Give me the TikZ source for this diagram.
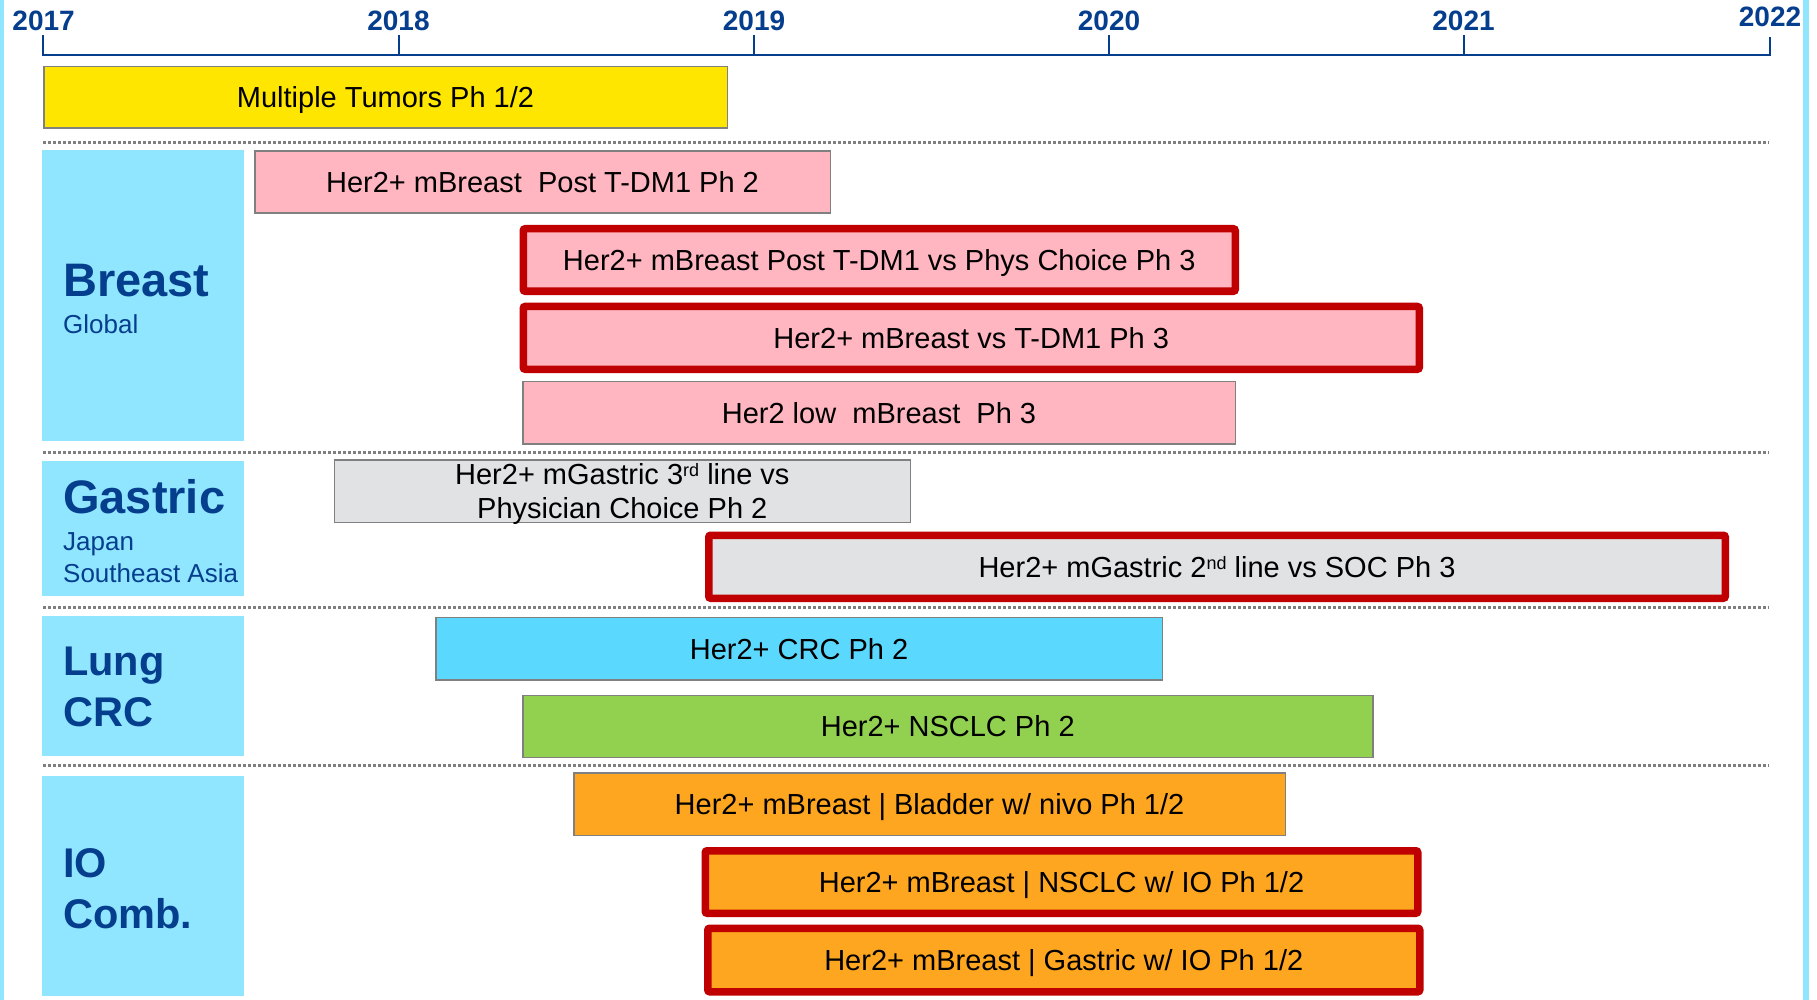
\documentclass[tikz,border=0pt]{standalone}
\usepackage{fontspec}
\setmainfont{Liberation Sans}

\definecolor{navy}{HTML}{063E8E}
\definecolor{labcyan}{HTML}{91E6FF}
\definecolor{barline}{HTML}{808080}
\definecolor{keyred}{HTML}{C00000}
\definecolor{sepgrey}{HTML}{7F7F7F}
\definecolor{cyellow}{HTML}{FFE600}
\definecolor{cpink}{HTML}{FFB6C1}
\definecolor{cgrey}{HTML}{E1E2E4}
\definecolor{cblue}{HTML}{5BD8FE}
\definecolor{cgreen}{HTML}{92D050}
\definecolor{corange}{HTML}{FEA61F}

% superscript ordinal
\newcommand\upsc[1]{\raisebox{8pt}{\fontsize{18}{18}\selectfont #1}}

% a timeline bar given by its outer corners:
% #1 name, #2 style, #3 border width, #4 x1, #5 y1, #6 x2, #7 y2, #8 text
\newcommand\task[8]{%
  \node[#2, minimum width={#6-#4-#3}, minimum height={#7-#5-#3}]
    (#1) at ({(#4+#6)/2},{(#5+#7)/2}) {#8};}

\begin{document}
\begin{tikzpicture}[x=1pt,y=-1pt,
  yearlab/.style={font=\fontsize{28}{28}\selectfont\bfseries, text=navy, inner sep=0, anchor=base},
  axisline/.style={draw=navy, line width=2.7pt},
  tickline/.style={draw=navy, line width=2pt},
  sepline/.style={draw=sepgrey, line width=3pt, dash pattern=on 3.2pt off 1.8pt},
  bar/.style={draw=barline, line width=1.5pt, inner sep=0, text height=21pt, text depth=0pt,
    font=\fontsize{29}{34}\selectfont, text=black},
  keybar/.style={bar, draw=keyred, line width=7.5pt, rounded corners=2pt},
  catbox/.style={fill=labcyan, inner sep=0},
  cathead/.style={font=\fontsize{47}{47}\selectfont\bfseries, text=navy, inner sep=0, anchor=base west},
  cathead2/.style={font=\fontsize{41.5}{41.5}\selectfont\bfseries, text=navy, inner sep=0, anchor=base west},
  catsub/.style={font=\fontsize{26}{26}\selectfont, text=navy, inner sep=0, anchor=base west}
]
\useasboundingbox (0,0) rectangle (1817,1000);
\fill[white] (0,0) rectangle (1817,1000);

% side bands
\fill[labcyan] (0,0) rectangle (4,1000);
\fill[labcyan] (1803,0) rectangle (1809,1000);

% time axis
\draw[axisline] (43,35) -- (43,55) -- (1770,55) -- (1770,37);
\foreach \tx in {398.5,754,1109,1463.5} \draw[tickline] (\tx,35) -- (\tx,55);

\node[yearlab] (y2017) at (43.6,30.7) {2017};
\node[yearlab] (y2018) at (398.5,30.7) {2018};
\node[yearlab] (y2019) at (754,30.7) {2019};
\node[yearlab] (y2020) at (1109,30.7) {2020};
\node[yearlab] (y2021) at (1463.5,30.7) {2021};
\node[yearlab] (y2022) at (1770,26.7) {2022};

% section separators
\foreach \sy in {143,452,607.5,765} \draw[sepline] (43,\sy) -- (1769,\sy);

% category panels
\node[catbox, minimum width=202pt, minimum height=291pt] (breastbox) at (143,295.5) {};
\node[catbox, minimum width=202pt, minimum height=135pt] (gastricbox) at (143,528.5) {};
\node[catbox, minimum width=202pt, minimum height=140pt] (lungbox) at (143,686) {};
\node[catbox, minimum width=202pt, minimum height=220pt] (iobox) at (143,886) {};

\node[cathead] (breast) at (63,297) {Breast};
\node[catsub] (global) at (63,333) {Global};
\node[cathead] (gastric) at (63,513) {Gastric};
\node[catsub] (japan) at (63,550.5) {Japan};
\node[catsub] (sea) at (63,582.7) {Southeast Asia};
\node[cathead2] (lung) at (63,675) {Lung};
\node[cathead2] (crc) at (63,726) {CRC};
\node[cathead2] (io) at (63,877) {IO};
\node[cathead2] (comb) at (63,928) {Comb.};

% study bars
\task{multi}{bar, fill=cyellow}{1.5}{43}{66}{728}{129}{Multiple Tumors Ph 1/2}
\task{bpost2}{bar, fill=cpink}{1.5}{254}{150.5}{831}{214}{Her2+ mBreast\ \ Post T-DM1 Ph 2}
\task{bpost3}{keybar, fill=cpink}{7.5}{519.5}{225}{1239}{295}{Her2+ mBreast Post T-DM1 vs Phys Choice Ph 3}
\task{btdm1}{keybar, fill=cpink}{7.5}{519.5}{302.7}{1423}{373}{Her2+ mBreast vs T-DM1 Ph 3}
\task{blow}{bar, fill=cpink}{1.5}{522}{380.7}{1236}{444.5}{Her2 low\ \ mBreast\ \ Ph 3}
\task{gthird}{bar, fill=cgrey, align=center, text height=55pt, text depth=0pt}{1.5}{333.6}{459.3}{911}{523}{Her2+ mGastric 3\upsc{rd} line vs\\Physician Choice Ph 2}
\task{gsecond}{keybar, fill=cgrey}{7.5}{705}{531.5}{1729}{602}{Her2+ mGastric 2\upsc{nd} line vs SOC Ph 3}
\task{crcph2}{bar, fill=cblue}{1.5}{435}{616.7}{1163}{680.7}{Her2+ CRC Ph 2}
\task{nsclc}{bar, fill=cgreen}{1.5}{522}{694.5}{1373.5}{758}{Her2+ NSCLC Ph 2}
\task{bladder}{bar, fill=corange}{1.5}{573}{772}{1286}{836}{Her2+ mBreast | Bladder w/ nivo Ph 1/2}
\task{ionsclc}{keybar, fill=corange}{7.5}{701.5}{847}{1421.5}{917}{Her2+ mBreast | NSCLC w/ IO Ph 1/2}
\task{iogastric}{keybar, fill=corange}{7.5}{704}{924.5}{1423.5}{995.5}{Her2+ mBreast | Gastric w/ IO Ph 1/2}
\end{tikzpicture}
\end{document}
